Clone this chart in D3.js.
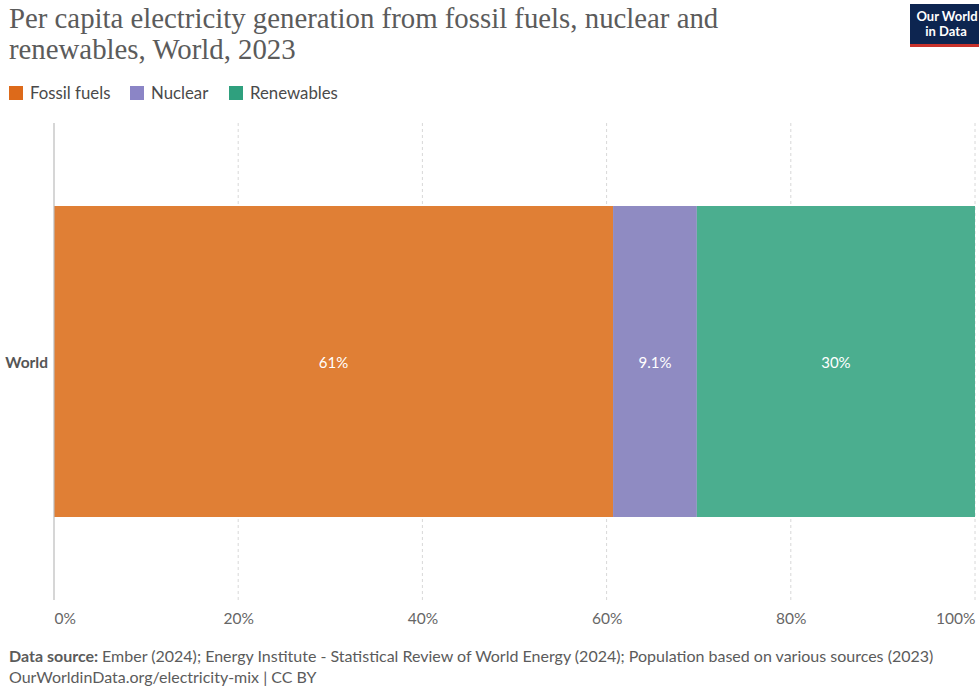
<!DOCTYPE html>
<html>
<head>
<meta charset="utf-8">
<script src="https://cdn.jsdelivr.net/npm/d3@7"></script>
<style>
  html, body { margin: 0; padding: 0; background: #fff; }
  svg { display: block; }
</style>
</head>
<body>
<svg id="chart" width="979" height="687"></svg>
<script>
// Share of per capita electricity generation by source, World 2023 (%)
const categories = ["World"];
const sources = ["Fossil fuels", "Nuclear", "Renewables"];
const fossilValues = [60.7];
const nuclearValues = [9.1];
const renewableValues = [30.2];
const valueLabels = [["61%", "9.1%", "30%"]];
const tickValues = [0, 20, 40, 60, 80, 100];

const barColors = ["#e07f35", "#8f8bc2", "#4bae8f"];
const legendColors = ["#dd6a1a", "#8b85c6", "#2fa07e"];

const svg = d3.select("#chart");
const W = 979, H = 687;
const margin = { left: 54, right: 4, top: 123, bottom: 87 };

// Title
const title = svg.append("g").attr("font-family", "'Liberation Serif', 'DejaVu Serif', serif")
  .attr("fill", "#5b5b5b").attr("font-size", 28.8);
title.append("text").attr("x", 9).attr("y", 28).text("Per capita electricity generation from fossil fuels, nuclear and");
title.append("text").attr("x", 9).attr("y", 59).text("renewables, World, 2023");

// Logo
const logo = svg.append("g");
logo.append("rect").attr("x", 910).attr("y", 4).attr("width", 69).attr("height", 41).attr("fill", "#0d2550");
logo.append("rect").attr("x", 910).attr("y", 44).attr("width", 69).attr("height", 3).attr("fill", "#c8322b");
logo.append("text").attr("x", 947).attr("y", 21).attr("text-anchor", "middle")
  .attr("font-family", "Lato, sans-serif").attr("font-weight", 700).attr("font-size", 13)
  .attr("fill", "#fff").text("Our World");
logo.append("text").attr("x", 946).attr("y", 36).attr("text-anchor", "middle")
  .attr("font-family", "Lato, sans-serif").attr("font-weight", 700).attr("font-size", 13)
  .attr("fill", "#fff").text("in Data");

// Legend
const legend = svg.append("g").attr("font-family", "Lato, sans-serif").attr("font-size", 16.8).attr("fill", "#4a4a4a");
const legendX = [9, 130, 229];
sources.forEach((s, i) => {
  legend.append("rect").attr("x", legendX[i]).attr("y", 86).attr("width", 14).attr("height", 14).attr("fill", legendColors[i]);
  legend.append("text").attr("x", legendX[i] + 21).attr("y", 99).text(s);
});

// Scales
const x = d3.scaleLinear().domain([0, 100]).range([margin.left, W - margin.right]);
const y = d3.scaleBand().domain(categories).range([margin.top, H - margin.bottom]).paddingInner(0).paddingOuter(0.1);

// Grid lines
const plotTop = margin.top, plotBottom = H - margin.bottom;
svg.append("g").selectAll("line").data(tickValues.filter(t => t > 0)).join("line")
  .attr("x1", d => x(d)).attr("x2", d => x(d))
  .attr("y1", plotTop).attr("y2", plotBottom)
  .attr("stroke", "#d8d8d8").attr("stroke-dasharray", "3,3");

// Stacked bars
const rows = categories.map((c, i) => ({ category: c, "Fossil fuels": fossilValues[i], "Nuclear": nuclearValues[i], "Renewables": renewableValues[i] }));
const stack = d3.stack().keys(sources)(rows);
const barH = 311;
const barY = c => y(c) + (y.bandwidth() - barH) / 2;

stack.forEach((layer, li) => {
  svg.append("g").selectAll("rect").data(layer).join("rect")
    .attr("x", d => x(d[0]))
    .attr("y", d => barY(d.data.category))
    .attr("width", d => x(d[1]) - x(d[0]))
    .attr("height", barH)
    .attr("fill", barColors[li]);
  svg.append("g").selectAll("text").data(layer).join("text")
    .attr("x", d => (x(d[0]) + x(d[1])) / 2)
    .attr("y", d => barY(d.data.category) + barH / 2 + 6)
    .attr("text-anchor", "middle")
    .attr("font-family", "Lato, sans-serif").attr("font-size", 15)
    .attr("fill", "#fff")
    .text((d, i) => valueLabels[i][li]);
});

// Category axis line and label
svg.append("line").attr("x1", x(0)).attr("x2", x(0)).attr("y1", plotTop).attr("y2", plotBottom)
  .attr("stroke", "#bbbbbb").attr("stroke-width", 1.2);
svg.append("g").selectAll("text").data(categories).join("text")
  .attr("x", x(0) - 6).attr("y", d => y(d) + y.bandwidth() / 2 + 6)
  .attr("text-anchor", "end").attr("font-family", "Lato, sans-serif")
  .attr("font-weight", 700).attr("font-size", 15.5).attr("fill", "#555")
  .text(d => d);

// Value axis
const xAxis = d3.axisBottom(x).tickValues(tickValues).tickSize(0).tickFormat(d => d + "%");
const ax = svg.append("g").attr("transform", `translate(0,${plotBottom + 7})`).call(xAxis);
ax.select(".domain").remove();
ax.selectAll("text").attr("font-family", "Lato, sans-serif").attr("font-size", 15.5).attr("fill", "#666")
  .attr("text-anchor", d => d === 0 ? "start" : d === 100 ? "end" : "middle")
  .attr("dy", "0.9em");

// Footer
const foot = svg.append("g").attr("font-family", "Lato, sans-serif").attr("font-size", 16).attr("fill", "#5b5b5b");
const src = foot.append("text").attr("x", 9).attr("y", 662);
src.append("tspan").attr("font-weight", 700).text("Data source: ");
src.append("tspan").text("Ember (2024); Energy Institute - Statistical Review of World Energy (2024); Population based on various sources (2023)");
foot.append("text").attr("x", 9).attr("y", 683).text("OurWorldinData.org/electricity-mix | CC BY");
</script>
</body>
</html>
